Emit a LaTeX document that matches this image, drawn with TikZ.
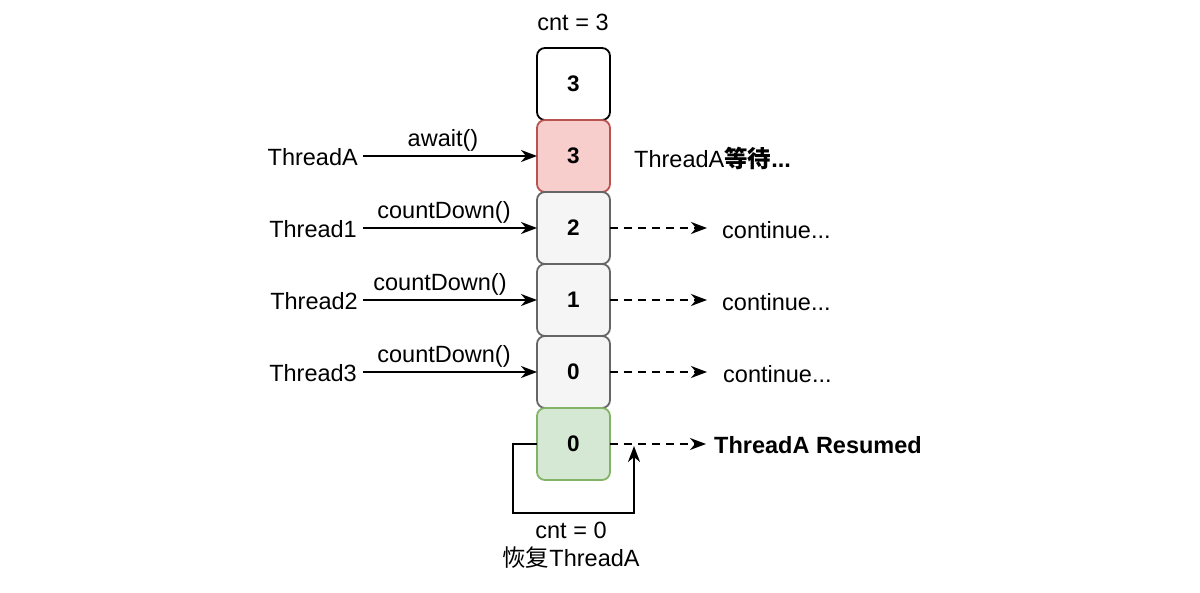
\documentclass[tikz,border=0pt]{standalone}
\usepackage{fontspec}
\setmainfont{Liberation Sans}
\newfontfamily\cjk{Noto Sans CJK SC}
\usetikzlibrary{positioning,arrows.meta}

\definecolor{redfill}{HTML}{F8CECC}
\definecolor{redline}{HTML}{B85450}
\definecolor{grayfill}{HTML}{F5F5F5}
\definecolor{grayline}{HTML}{666666}
\definecolor{greenfill}{HTML}{D5E8D4}
\definecolor{greenline}{HTML}{82B366}

\tikzset{
  cell/.style={draw,rounded corners=8pt,minimum width=73pt,minimum height=72pt,
    outer sep=0pt,line width=1.8pt,font=\bfseries\fontsize{22.5}{26}\selectfont},
  lbl/.style={font=\fontsize{23.5}{27}\selectfont,inner sep=0pt},
  tip/.style={-{Stealth[length=16pt,width=12pt,inset=5pt]}},
  call/.style={tip,line width=1.8pt},
  pass/.style={tip,line width=1.8pt,dash pattern=on 8pt off 6pt}
}

\begin{document}
\begin{tikzpicture}[x=1pt,y=-1pt]
  \useasboundingbox (0,0) rectangle (1200,593);
  % counter cells
  \node[cell] (c0) at (573.5,84) {3};
  \node[cell,fill=redfill,draw=redline,below=0pt of c0] (c1) {3};
  \node[cell,fill=grayfill,draw=grayline,below=0pt of c1] (c2) {2};
  \node[cell,fill=grayfill,draw=grayline,below=0pt of c2] (c3) {1};
  \node[cell,fill=grayfill,draw=grayline,below=0pt of c3] (c4) {0};
  \node[cell,fill=greenfill,draw=greenline,below=0pt of c4] (c5) {0};
  \node[lbl] (cnt3) at (573,22) {cnt = 3};

  % callers
  \node[lbl,anchor=east] (ta) at (358,157) {ThreadA};
  \node[lbl,anchor=east] (t1) at (357,229) {Thread1};
  \node[lbl,anchor=east] (t2) at (358,301) {Thread2};
  \node[lbl,anchor=east] (t3) at (357,373) {Thread3};
  \draw[call] ([xshift=5pt]ta.east |- c1) -- (c1.west) node[lbl,midway,above=4pt,xshift=-7pt] (aw) {await()};
  \draw[call] ([xshift=6pt]t1.east |- c2) -- (c2.west) node[lbl,midway,above=4pt,xshift=-6pt] (cd1) {countDown()};
  \draw[call] ([xshift=5pt]t2.east |- c3) -- (c3.west) node[lbl,midway,above=4pt,xshift=-10pt] (cd2) {countDown()};
  \draw[call] ([xshift=6pt]t3.east |- c4) -- (c4.west) node[lbl,midway,above=4pt,xshift=-6pt] (cd3) {countDown()};

  % results
  \node[lbl,anchor=west] (wait) at (634,158) {ThreadA{\cjk\bfseries 等待}\textbf{...}};
  \node[lbl,anchor=west] (k2) at (722,230) {continue...};
  \node[lbl,anchor=west] (k3) at (722,302) {continue...};
  \node[lbl,anchor=west] (k4) at (723,374) {continue...};
  \node[lbl,anchor=west,font=\bfseries\fontsize{23.5}{27}\selectfont] (res) at (714,445) {ThreadA Resumed};
  \draw[pass] (c2.east) -- ([xshift=-15pt]k2.west |- c2);
  \draw[pass] (c3.east) -- ([xshift=-15pt]k3.west |- c3);
  \draw[pass] (c4.east) -- ([xshift=-16pt]k4.west |- c4);
  \draw[pass] (c5.east) -- ([xshift=-8pt]res.west |- c5);

  % wake up
  \coordinate (back) at (634,446);
  \draw[call] (c5.west) -- ++(-24,0) -- ++(0,69) -| (back);
  \node[lbl] (cnt0) at (571,530) {cnt = 0};
  \node[lbl] (wake) at (571,558) {{\cjk 恢复}ThreadA};
\end{tikzpicture}
\end{document}
